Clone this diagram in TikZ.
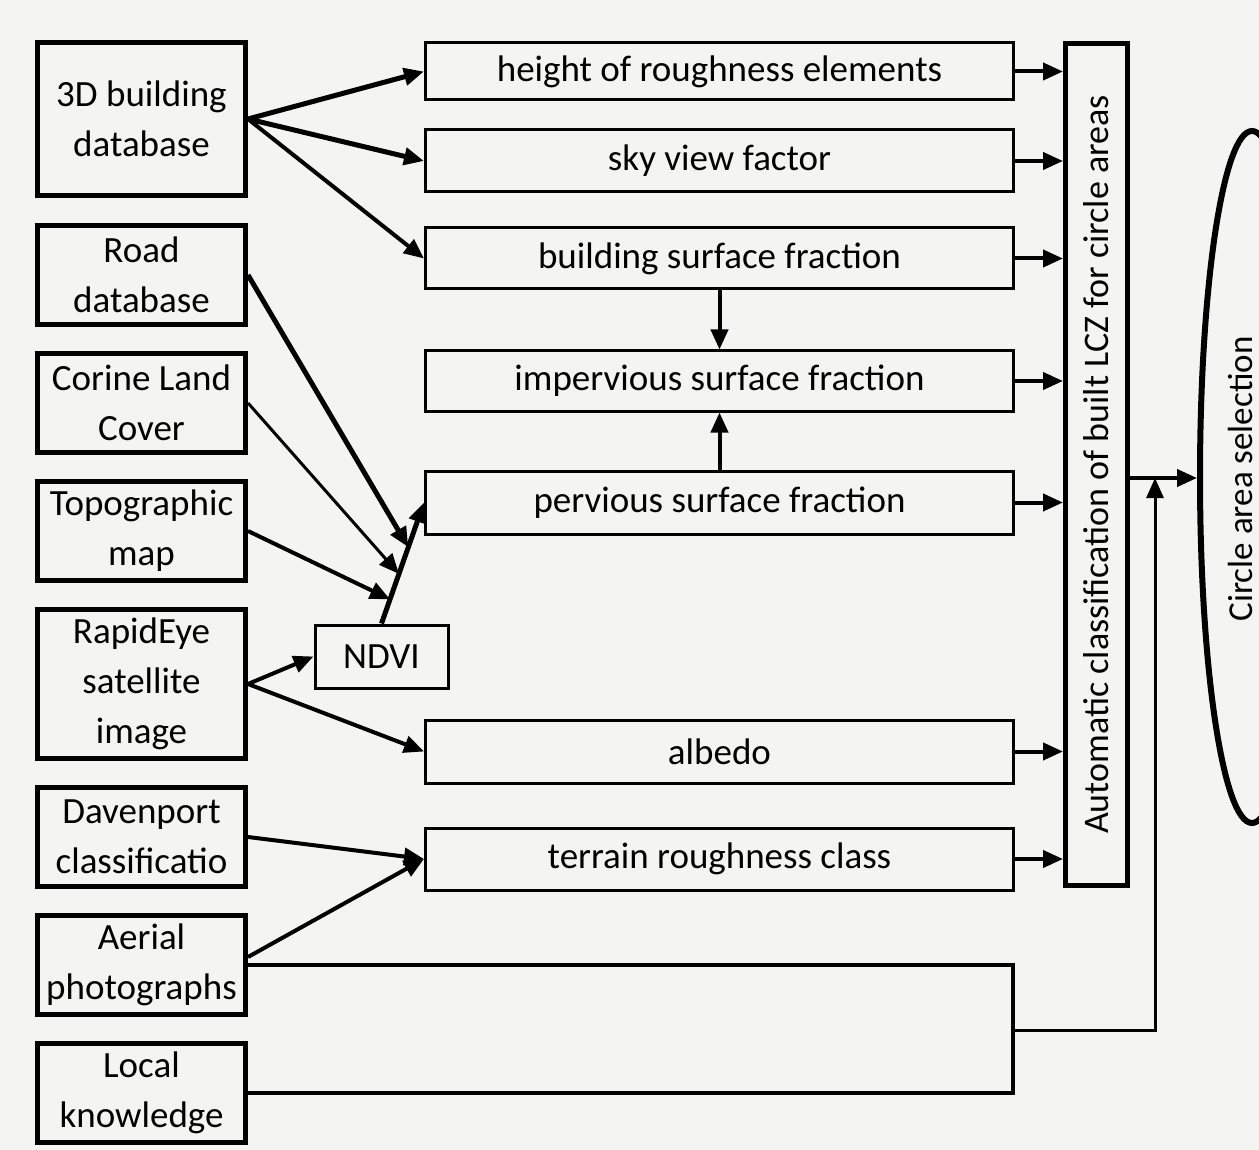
\documentclass[tikz,border=0pt]{standalone}
\usepackage{fontspec}
\setmainfont{Carlito}
\usetikzlibrary{arrows.meta,shapes.geometric,calc}
\definecolor{bg}{RGB}{244,244,242}
\begin{document}
\begin{tikzpicture}[x=1pt,y=-1pt,
  lbox/.style={draw,line width=5pt,minimum width=208pt,align=center,inner sep=0pt,font=\fontsize{37}{50}\selectfont},
  mbox/.style={draw,line width=3pt,minimum width=588pt,inner sep=0pt,font=\fontsize{37}{44}\selectfont},
  arr/.style={line width=4pt,-{Triangle[length=20pt,width=17pt]}},
  thickarr/.style={arr,line width=5pt},
  thinarr/.style={arr,line width=3pt},
  rtext/.style={rotate=90,font=\fontsize{36}{40}\selectfont,inner sep=0pt}
]
\fill[bg] (0,0) rectangle (1259,1150);
\clip (0,0) rectangle (1259,1150);

% left sources
\node[lbox,minimum height=153pt] (b3d) at (141.5,119) {3D building\\database};
\node[lbox,minimum height=99pt] (road) at (141.5,275) {Road\\database};
\node[lbox,minimum height=99pt] (corine) at (141.5,403) {Corine Land\\Cover};
\node[lbox,minimum height=99pt] (topo) at (141.5,531) {Topographic\\map};
\node[lbox,minimum height=149pt] (rapid) at (141.5,684) {RapidEye\\satellite\\image};
\node[lbox,minimum height=99pt] (daven) at (141.5,837) {Davenport\\classificatio};
\node[lbox,minimum height=99pt] (aerial) at (141.5,965) {Aerial\\photographs};
\node[lbox,minimum height=99pt] (local) at (141.5,1093) {Local\\knowledge};

% middle parameters
\node[mbox,minimum height=57pt] (hre) at (719.5,71.5) {height of roughness elements};
\node[mbox,minimum height=62pt] (svf) at (719.5,161) {sky view factor};
\node[mbox,minimum height=61pt] (bsf) at (719.5,258.5) {building surface fraction};
\node[mbox,minimum height=60pt] (isf) at (719.5,381) {impervious surface fraction};
\node[mbox,minimum height=63pt] (psf) at (719.5,502.5) {pervious surface fraction};
\node[mbox,minimum height=63pt] (alb) at (719.5,751.5) {albedo};
\node[mbox,minimum height=62pt] (trc) at (719.5,859) {terrain roughness class};

\node[draw,line width=3pt,minimum width=133pt,minimum height=63pt,inner sep=0pt,font=\fontsize{37}{44}\selectfont] (ndvi) at (381.5,656.5) {NDVI};

% classification box
\node[draw,line width=5pt,minimum width=62pt,minimum height=842pt,inner sep=0pt] (auto) at (1096.5,464.5) {};
\node[rtext] (autotext) at (auto.center) {Automatic classification of built LCZ for circle areas};

% selection ellipse
\node[draw,ellipse,line width=6pt,minimum width=104pt,minimum height=692pt,inner sep=0pt] (ell) at (1252,477) {};
\node[rtext,font=\fontsize{35}{40}\selectfont] (elltext) at (1240,479) {Circle area selection};

% arrows from 3D building database
\draw[thickarr] (b3d.east) -- (hre.west);
\draw[thickarr] (b3d.east) -- (svf.west);
\draw[arr] (b3d.east) -- (bsf.west);

% NDVI line and converging arrows
\draw[thickarr] (ndvi.north) -- (psf.west);
\coordinate (p1) at ($(ndvi.north)!0.63!(psf.west)$);
\coordinate (p2) at ($(ndvi.north)!0.41!(psf.west)$);
\coordinate (p3) at ($(ndvi.north)!0.2!(psf.west)$);
\draw[thickarr] (road.east) -- (p1);
\draw[thinarr] (corine.east) -- (p2);
\draw[arr] (topo.east) -- (p3);

\draw[arr] (rapid.east) -- (ndvi.west);
\draw[arr] (rapid.east) -- (alb.west);
\draw[arr] (daven.east) -- (trc.west);
\draw[arr] ([yshift=8pt]aerial.east) -- (trc.west);

% vertical arrows
\draw[arr] (bsf.south) -- (isf.north);
\draw[arr] (psf.north) -- (isf.south);

% to classification
\foreach \n in {hre,svf,bsf,isf,psf,alb,trc}
  \draw[arr] (\n.east) -- (\n.east -| auto.west);

% to selection
\coordinate (sel) at (1155,478);
\draw[arr] (sel -| auto.east) -- (sel -| ell.west);

% bracket from aerial photographs and local knowledge
\coordinate (bx) at (1013,1030);
\draw[line width=4pt] (aerial.east) -- (aerial.east -| bx) -- (local.east -| bx) -- (local.east);
\draw[thinarr] (bx) -- (bx -| sel) -- (sel);
\end{tikzpicture}
\end{document}
